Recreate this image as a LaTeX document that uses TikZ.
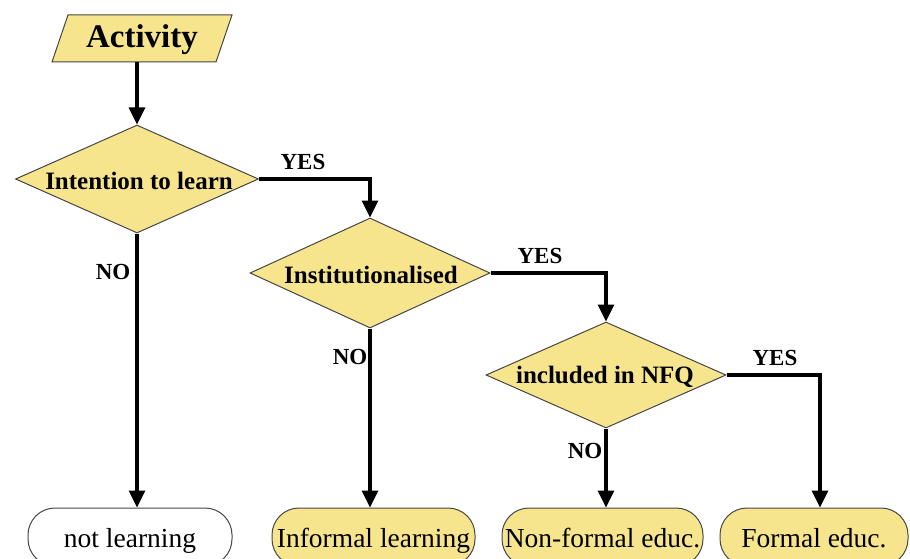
\documentclass[tikz,border=0pt]{standalone}
\usepackage{fontspec}
\setmainfont{Liberation Serif}
\usetikzlibrary{arrows.meta,shapes.geometric}
\definecolor{fillY}{RGB}{247,229,142}
\definecolor{edgeG}{RGB}{70,70,70}
\tikzset{
  dia/.style={diamond, draw=edgeG, line width=1pt, fill=fillY, inner sep=0pt},
  dtext/.style={font=\fontsize{25}{27}\selectfont\bfseries, inner sep=0pt},
  term/.style={rectangle, rounded corners=27pt, draw=edgeG, line width=1pt, minimum height=58pt, inner sep=0pt, text height=22pt, text depth=2pt, font=\fontsize{27.5}{30}\selectfont},
  lab/.style={font=\fontsize{23}{25}\selectfont\bfseries, inner sep=0pt},
  conn/.style={line width=3.2pt, -{Triangle[length=17pt,width=16pt]}},
}
\begin{document}
\begin{tikzpicture}[x=1pt,y=-1pt]
\useasboundingbox (0,0) rectangle (910,559);
% Activity parallelogram
\draw[draw=edgeG, line width=1pt, fill=fillY] (52,62) -- (68,15) -- (232,15) -- (216,62) -- cycle;
\node[font=\fontsize{33}{35}\selectfont\bfseries, inner sep=0pt] (act) at (142,40) {Activity};
\coordinate (actb) at (137,62);
% diamonds
\node[dia, minimum width=243pt, minimum height=108pt] (d1) at (137,179) {};
\node[dtext] at (139,181) {Intention to learn};
\node[dia, minimum width=240pt, minimum height=110pt] (d2) at (370,273) {};
\node[dtext] at (371,275) {Institutionalised};
\node[dia, minimum width=240pt, minimum height=106pt] (d3) at (606,375) {};
\node[dtext] at (605,377) {included in NFQ};
% terminals
\node[term, fill=white, minimum width=204pt] (t1) at (130,537) {not learning};
\node[term, fill=fillY, minimum width=203pt] (t2) at (373.5,537) {Informal learning};
\node[term, fill=fillY, minimum width=201pt] (t3) at (602.5,537) {Non-formal educ.};
\node[term, fill=fillY, minimum width=188pt] (t4) at (814,537) {Formal educ.};
% connectors
\draw[conn] (actb) -- (d1.north);
\draw[conn] (d1.east) -| (d2.north);
\draw[conn] (d2.east) -| (d3.north);
\draw[conn] (d3.east) -| (t4.north -| 820,0);
\draw[conn] (d1.south) -- (t1.north -| d1.south);
\draw[conn] (d2.south) -- (t2.north -| d2.south);
\draw[conn] (d3.south) -- (t3.north -| d3.south);
% labels
\node[lab] at (303,162) {YES};
\node[lab] at (540,256) {YES};
\node[lab] at (775,358) {YES};
\node[lab] at (113,272) {NO};
\node[lab] at (350,357) {NO};
\node[lab] at (585,451) {NO};
\end{tikzpicture}
\end{document}
